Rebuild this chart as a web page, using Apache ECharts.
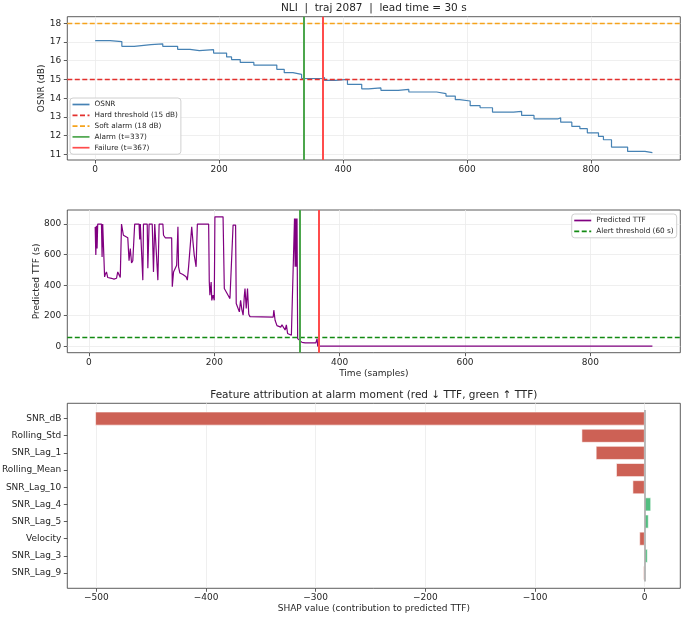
<!DOCTYPE html>
<html><head><meta charset="utf-8">
<script src="https://cdn.jsdelivr.net/npm/echarts@6/dist/echarts.min.js"></script>
<style>html,body{margin:0;padding:0;background:#fff}#c{width:685px;height:620px}</style>
</head><body><div id="c"></div>
<script>
// ---- data ----
const osnrT = [0, 24, 43, 63, 90, 109, 133, 153, 168, 191, 212, 220, 234, 256, 293, 305, 319, 333, 366, 370, 388, 407, 430, 441, 461, 489, 506, 551, 566, 581, 588, 605, 621, 641, 675, 688, 708, 747, 751, 769, 782, 794, 812, 820, 833, 859, 887, 899];
const osnrV = [17.07, 17.02, 16.77, 16.86, 16.9, 16.77, 16.61, 16.54, 16.59, 16.41, 16.2, 16.06, 15.91, 15.77, 15.54, 15.36, 15.27, 15.05, 15.1, 14.95, 15.0, 14.74, 14.5, 14.55, 14.42, 14.47, 14.33, 14.24, 14.11, 13.92, 13.85, 13.6, 13.49, 13.26, 13.3, 13.08, 12.9, 12.95, 12.72, 12.49, 12.37, 12.15, 11.96, 11.78, 11.39, 11.16, 11.09, 11.09];

const ttfT = [10,11,12,13,14,20,21,22,24,25,26,28,30,36,40,44,46,48,50,51,52,53,55,58,62,63,64,66,68,70,72,73,80,81,82,85,86,87,93,94,96,101,103,105,108,110,112,118,119,122,132,133,135,138,140,142,143,145,150,155,157,159,162,164,166,168,171,173,191,192,193,195,196,198,200,201,214,216,219,222,225,228,230,234,235,237,240,242,244,246,248,249,251,253,255,257,260,294,295,297,300,303,306,308,310,313,315,317,320,323,326,328,329,330,331,332,333,336,340,345,362,364,365,899];
const ttfV = [782,597,790,640,800,800,585,800,800,454,470,487,450,445,440,445,487,487,450,450,800,790,727,720,710,712,560,640,545,560,555,800,800,700,800,800,433,800,800,511,800,800,487,800,800,433,800,800,727,710,710,390,487,480,530,782,520,480,470,455,433,520,520,782,684,597,520,800,800,425,334,420,300,334,301,848,848,378,370,334,312,320,794,794,280,269,225,300,240,203,334,378,247,378,210,194,191,191,236,170,135,145,125,140,137,106,140,83,95,72,61,837,520,837,520,837,50,40,25,22,22,50,0,0];

const HARD_DB = 15, SOFT_DB = 18, ALARM_T = 337, FAIL_T = 367, ALERT_S = 60, LEAD_S = 30, TRAJ = 2087;

const features = ['SNR_dB','Rolling_Std','SNR_Lag_1','Rolling_Mean','SNR_Lag_10','SNR_Lag_4','SNR_Lag_5','Velocity','SNR_Lag_3','SNR_Lag_9'];
const shapVals = [-501, -57.5, -44.5, -26, -11, 5.8, 3.6, -4.8, 2.7, -1.2];

const osnrTicks = [11, 12, 13, 14, 15, 16, 17, 18];
const timeTicks = [0, 200, 400, 600, 800];
const ttfTicks = [0, 200, 400, 600, 800];
const shapTicks = [-500, -400, -300, -200, -100, 0];

// ---- style ----
const FONT = "'DejaVu Sans', sans-serif";
const TXT = '#262626';
const FRAME = '#333';
const GRIDC = '#ebebeb';
const L = 67.3, R = 4.7;
const fmt = v => String(v).replace('-', '\u2212');
const C_OSNR = '#4682b4', C_HARD = '#e3302d', C_SOFT = '#f5a31c', C_ALARM = '#4ca64c', C_FAIL = '#ff4c4c', C_TTF = '#800080', C_ALERT = '#138a13';
const C_NEG = '#cd6155', C_POS = '#52be80';
const ICON_SOLID = 'path://M0,0H17V1H0Z';
const ICON_DASH = 'path://M0,0H5V1H0Z M7.5,0H12.5V1H7.5Z M15,0H17V1H15Z';

function xValAxis(grid, min, max, ticks, name, nameGap) {
  return {
    gridIndex: grid, type: 'value', min, max, splitNumber: 5,
    name: name || '', nameLocation: 'middle', nameGap: nameGap || 0, nameMoveOverlap: false,
    nameTextStyle: {fontFamily: FONT, fontSize: 9, color: TXT},
    axisLine: {show: false, onZero: false},
    axisTick: {show: true, length: 3.5, customValues: ticks, lineStyle: {color: FRAME, width: 0.8}},
    axisLabel: {customValues: ticks, fontFamily: FONT, fontSize: 9, color: TXT, margin: 5, formatter: fmt},
    splitLine: {show: true, lineStyle: {color: GRIDC, width: 0.8}}
  };
}
function yValAxis(grid, min, max, ticks, split, name, nameGap) {
  return {
    gridIndex: grid, type: 'value', min, max, splitNumber: split,
    name: name, nameLocation: 'middle', nameGap: nameGap, nameRotate: 90, nameMoveOverlap: false,
    nameTextStyle: {fontFamily: FONT, fontSize: 9, color: TXT},
    axisLine: {show: false, onZero: false},
    axisTick: {show: true, length: 3.5, customValues: ticks, lineStyle: {color: FRAME, width: 0.8}},
    axisLabel: {customValues: ticks, fontFamily: FONT, fontSize: 9, color: TXT, margin: 6, formatter: fmt},
    splitLine: {show: true, lineStyle: {color: GRIDC, width: 0.8}}
  };
}
function markOnly(name, xi, yi, color, dashed, axisKey, value, width) {
  const ls = {color, width: width, type: dashed ? [5, 2.5] : 'solid'};
  return {
    name, type: 'line', xAxisIndex: xi, yAxisIndex: yi, data: [], symbol: 'none',
    color, lineStyle: ls,
    markLine: {silent: true, symbol: ['none', 'none'], label: {show: false}, lineStyle: ls,
      emphasis: {disabled: true}, data: [{[axisKey]: value}]}
  };
}
const legendBase = {orient: 'vertical', itemWidth: 17, itemHeight: 1.7, itemGap: 3.8, symbolKeepAspect: false,
  padding: [3, 3, 3, 2.5], backgroundColor: 'rgba(255,255,255,0.85)', borderColor: '#d0d0d0', borderWidth: 1, borderRadius: 3,
  textStyle: {fontFamily: FONT, fontSize: 7.3, color: TXT}};

const chart = echarts.init(document.getElementById('c'), null, {renderer: 'canvas'});
const gridBase = {left: L, right: R, show: true, borderColor: FRAME, borderWidth: 0.8, backgroundColor: 'transparent', outerBoundsMode: 'none', containLabel: false};

const option = {
  animation: false,
  backgroundColor: '#fff',
  graphic: [
    {type: 'text', x: 373.8, y: 8, style: {text: `NLI  |  traj ${TRAJ}  |  lead time = ${LEAD_S} s`, font: `10.5px ${FONT}`, fill: TXT, textAlign: 'center', textVerticalAlign: 'middle'}},
    {type: 'text', x: 373.8, y: 395, style: {text: 'Feature attribution at alarm moment (red \u2193 TTF, green \u2191 TTF)', font: `10.5px ${FONT}`, fill: TXT, textAlign: 'center', textVerticalAlign: 'middle'}}
  ],
  grid: [
    Object.assign({}, gridBase, {top: 16.7, height: 143.3}),
    Object.assign({}, gridBase, {top: 210, height: 142.7}),
    Object.assign({}, gridBase, {top: 403.3, height: 185}),
    {left: L, right: R, top: 410, height: 171.6, show: false, outerBoundsMode: 'none', containLabel: false}
  ],
  legend: [
    Object.assign({}, legendBase, {left: 70, top: 98,
     data: [
       {name: 'OSNR', icon: ICON_SOLID},
       {name: `Hard threshold (${HARD_DB} dB)`, icon: ICON_DASH},
       {name: `Soft alarm (${SOFT_DB} dB)`, icon: ICON_DASH},
       {name: `Alarm (t=${ALARM_T})`, icon: ICON_SOLID},
       {name: `Failure (t=${FAIL_T})`, icon: ICON_SOLID}]}),
    Object.assign({}, legendBase, {right: 8.3, top: 214,
     data: [
       {name: 'Predicted TTF', icon: ICON_SOLID},
       {name: `Alert threshold (${ALERT_S} s)`, icon: ICON_DASH}]})
  ],
  xAxis: [
    xValAxis(0, -45, 944, timeTicks),
    xValAxis(1, -34.5, 943.5, timeTicks, 'Time (samples)', 16),
    xValAxis(2, -526.5, 32.5, shapTicks, 'SHAP value (contribution to predicted TTF)', 16),
    {gridIndex: 3, type: 'value', min: -526.5, max: 32.5, show: false}
  ],
  yAxis: [
    yValAxis(0, 10.7, 18.35, osnrTicks, 7, 'OSNR (dB)', 21.6),
    yValAxis(1, -42.5, 892.5, ttfTicks, 5, 'Predicted TTF (s)', 26.6),
    {gridIndex: 2, type: 'value', min: 0, max: 1, show: false},
    {gridIndex: 3, type: 'category', inverse: true, data: features,
     axisLine: {show: false, onZero: false},
     axisTick: {show: true, alignWithLabel: true, length: 3.5, lineStyle: {color: FRAME, width: 0.8}},
     axisLabel: {fontFamily: FONT, fontSize: 9, color: TXT, margin: 6},
     splitLine: {show: false}}
  ],
  series: [
    {name: 'OSNR', type: 'line', xAxisIndex: 0, yAxisIndex: 0, step: 'end', symbol: 'none',
     data: osnrT.map((t, i) => [t, osnrV[i]]), color: C_OSNR, lineStyle: {color: C_OSNR, width: 1.2}, z: 3},
    markOnly(`Hard threshold (${HARD_DB} dB)`, 0, 0, C_HARD, true, 'yAxis', HARD_DB, 1.4),
    markOnly(`Soft alarm (${SOFT_DB} dB)`, 0, 0, C_SOFT, true, 'yAxis', SOFT_DB, 1.4),
    markOnly(`Alarm (t=${ALARM_T})`, 0, 0, C_ALARM, false, 'xAxis', ALARM_T, 2),
    markOnly(`Failure (t=${FAIL_T})`, 0, 0, C_FAIL, false, 'xAxis', FAIL_T, 2),

    {name: 'Predicted TTF', type: 'line', xAxisIndex: 1, yAxisIndex: 1, symbol: 'none',
     data: ttfT.map((t, i) => [t, ttfV[i]]), color: C_TTF, lineStyle: {color: C_TTF, width: 1.2}, z: 3},
    markOnly(`Alert threshold (${ALERT_S} s)`, 1, 1, C_ALERT, true, 'yAxis', ALERT_S, 1.4),
    markOnly('alarm_mid', 1, 1, C_ALARM, false, 'xAxis', ALARM_T, 2),
    markOnly('failure_mid', 1, 1, C_FAIL, false, 'xAxis', FAIL_T, 2),

    {name: 'SHAP', type: 'bar', xAxisIndex: 3, yAxisIndex: 3, barCategoryGap: '20%',
     data: shapVals.map(v => ({value: v, itemStyle: {color: v < 0 ? C_NEG : C_POS}})),
     itemStyle: {borderColor: '#fff', borderWidth: 0.6},
     markLine: {silent: true, symbol: ['none', 'none'], label: {show: false}, z: 10,
       lineStyle: {color: '#aaaaaa', width: 1.6, type: 'solid'}, data: [{xAxis: 0}]}}
  ]
};
chart.setOption(option);
</script>
</body></html>
